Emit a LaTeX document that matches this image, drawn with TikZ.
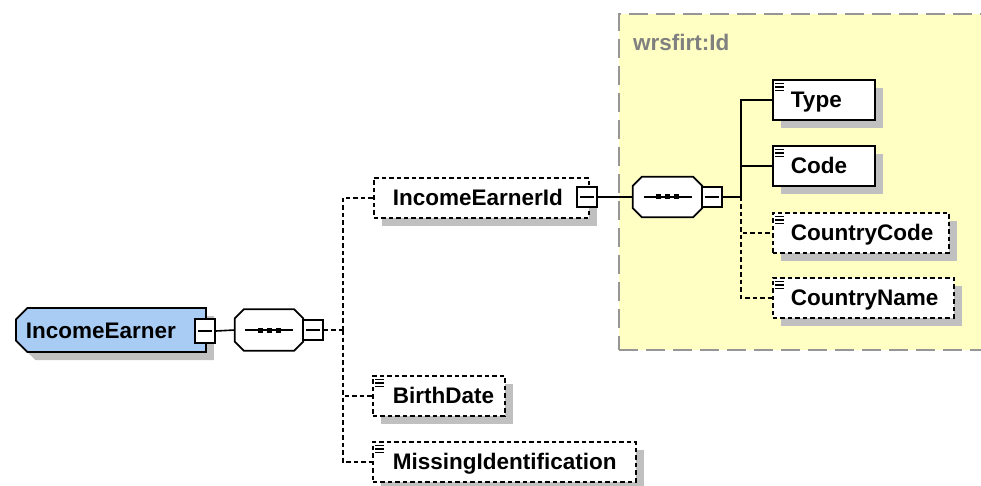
\documentclass[tikz,border=0pt]{standalone}
\usepackage{fontspec}
\setmainfont{Liberation Sans}
\usetikzlibrary{shapes.misc,shadows}
\definecolor{ieblue}{RGB}{168,204,244}
\definecolor{grpyellow}{RGB}{255,255,196}
\definecolor{shadowgray}{RGB}{192,192,192}
\definecolor{grpgray}{RGB}{150,150,150}
\definecolor{txtgray}{RGB}{128,128,128}
\tikzset{
  shad/.style={drop shadow={shadow xshift=8pt,shadow yshift=-8pt,fill=shadowgray,opacity=1}},
  lbl/.style={font=\bfseries\fontsize{22.5}{24}\selectfont},
  elem/.style={draw, fill=white, line width=1.8pt, rectangle, minimum height=40pt,
    inner xsep=18pt, inner ysep=0pt, align=left, text height=16pt, text depth=0pt, lbl, shad},
  opt/.style={dash pattern=on 4.5pt off 3pt},
  icon/.style={path picture={
    \draw[solid,black,line width=1.3pt]
      ([xshift=2.5pt,yshift=-3.5pt]path picture bounding box.north west) -- ++(9pt,0pt)
      ([xshift=2.5pt,yshift=-7pt]path picture bounding box.north west) -- ++(9pt,0pt)
      ([xshift=2.5pt,yshift=-10.5pt]path picture bounding box.north west) -- ++(9pt,0pt);}},
  minus/.style={draw, fill=white, line width=1.8pt, solid, rectangle, minimum width=20pt,
    minimum height=20pt, inner sep=0pt,
    path picture={\draw[black,line width=1.6pt]
      ([xshift=3pt]path picture bounding box.west) -- ([xshift=-3pt]path picture bounding box.east);}},
  seqbox/.style={rectangle, inner sep=0pt, minimum width=68pt, minimum height=41pt},
  octline/.style={line width=1.8pt, draw=black, fill=white},
  conn/.style={line width=1.6pt},
}
\newcommand\seqshape[1]{%
  \fill[shadowgray, shift={(8pt,-8pt)}]
    ([xshift=9pt]#1.north west) -- ([xshift=-9pt]#1.north east) -- ([yshift=-9pt]#1.north east)
    -- ([yshift=9pt]#1.south east) -- ([xshift=-9pt]#1.south east) -- ([xshift=9pt]#1.south west)
    -- ([yshift=9pt]#1.south west) -- ([yshift=-9pt]#1.north west) -- cycle;
  \path[octline]
    ([xshift=9pt]#1.north west) -- ([xshift=-9pt]#1.north east) -- ([yshift=-9pt]#1.north east)
    -- ([yshift=9pt]#1.south east) -- ([xshift=-9pt]#1.south east) -- ([xshift=9pt]#1.south west)
    -- ([yshift=9pt]#1.south west) -- ([yshift=-9pt]#1.north west) -- cycle;
  \draw[line width=1.6pt] ([xshift=-24pt]#1.center) -- ([xshift=24pt]#1.center);
  \fill[black] ([shift={(-11.5pt,-2.5pt)}]#1.center) rectangle ++(5pt,5pt);
  \fill[black] ([shift={(-2.5pt,-2.5pt)}]#1.center) rectangle ++(5pt,5pt);
  \fill[black] ([shift={(6.5pt,-2.5pt)}]#1.center) rectangle ++(5pt,5pt);
}
\begin{document}
\begin{tikzpicture}[x=1pt,y=-1pt]
\useasboundingbox (0,0) rectangle (981,486);
% group box
\node[draw=grpgray, fill=grpyellow, line width=1.6pt, dash pattern=on 19pt off 8pt,
  rectangle, minimum width=400pt, minimum height=336pt, anchor=north west, inner sep=0pt] (grp) at (618,13) {};
\node[lbl, text=txtgray, anchor=west, inner sep=0pt] (grplbl) at (633,42) {wrsfirt:Id};

% root
\node[draw, fill=ieblue, line width=1.8pt, chamfered rectangle, chamfered rectangle xsep=10pt,
  chamfered rectangle corners={north west,south west}, inner sep=0pt,
  minimum width=190pt, minimum height=44pt, text width=170pt, align=left,
  text height=16pt, text depth=0pt, lbl, shad, anchor=west] (ie) at (15,330) {IncomeEarner};
\node[minus, minimum height=24pt] (iem) at (205,331) {};

\node[seqbox] (seq1) at (269,330) {};
\seqshape{seq1}
\node[minus] (s1m) at (313,330) {};

% children of root
\node[elem, opt, inner xsep=19pt, text width=177pt, anchor=north west] (ieid) at (373,177) {IncomeEarnerId};
\node[minus] (ieidm) at (587,197) {};
\node[elem, opt, icon, inner xsep=20pt, text width=92pt, anchor=north west] (birth) at (372,375) {BirthDate};
\node[elem, opt, icon, inner xsep=20pt, text width=223pt, anchor=north west] (miss) at (372,441) {MissingIdentification};

% id sequence
\node[seqbox, minimum width=69pt, minimum height=40pt] (seq2) at (667.5,197) {};
\seqshape{seq2}
\node[minus] (s2m) at (712,197) {};

\node[elem, icon, text width=66pt, anchor=north west] (type) at (772,79) {Type};
\node[elem, icon, text width=66pt, anchor=north west] (code) at (772,145) {Code};
\node[elem, opt, icon, text width=140pt, anchor=north west] (ccode) at (772,212) {CountryCode};
\node[elem, opt, icon, text width=145pt, anchor=north west] (cname) at (772,277) {CountryName};

% connectors
\coordinate (j1) at (343,330);
\coordinate (j2) at (741,197);
\draw[conn] (iem.east) -- (seq1.west);
\draw[conn,opt] (s1m.east) -- (j1);
\draw[conn,opt] (j1) |- (ieid.west);
\draw[conn,opt] (j1) |- (birth.west);
\draw[conn,opt] (j1) |- (miss.west);
\draw[conn] (ieidm.east) -- (seq2.west);
\draw[conn] (s2m.east) -- (j2);
\draw[conn] (j2) |- (type.west);
\draw[conn] (j2) |- (code.west);
\draw[conn,opt] (j2) |- (ccode.west);
\draw[conn,opt] (j2) |- (cname.west);
\end{tikzpicture}
\end{document}
